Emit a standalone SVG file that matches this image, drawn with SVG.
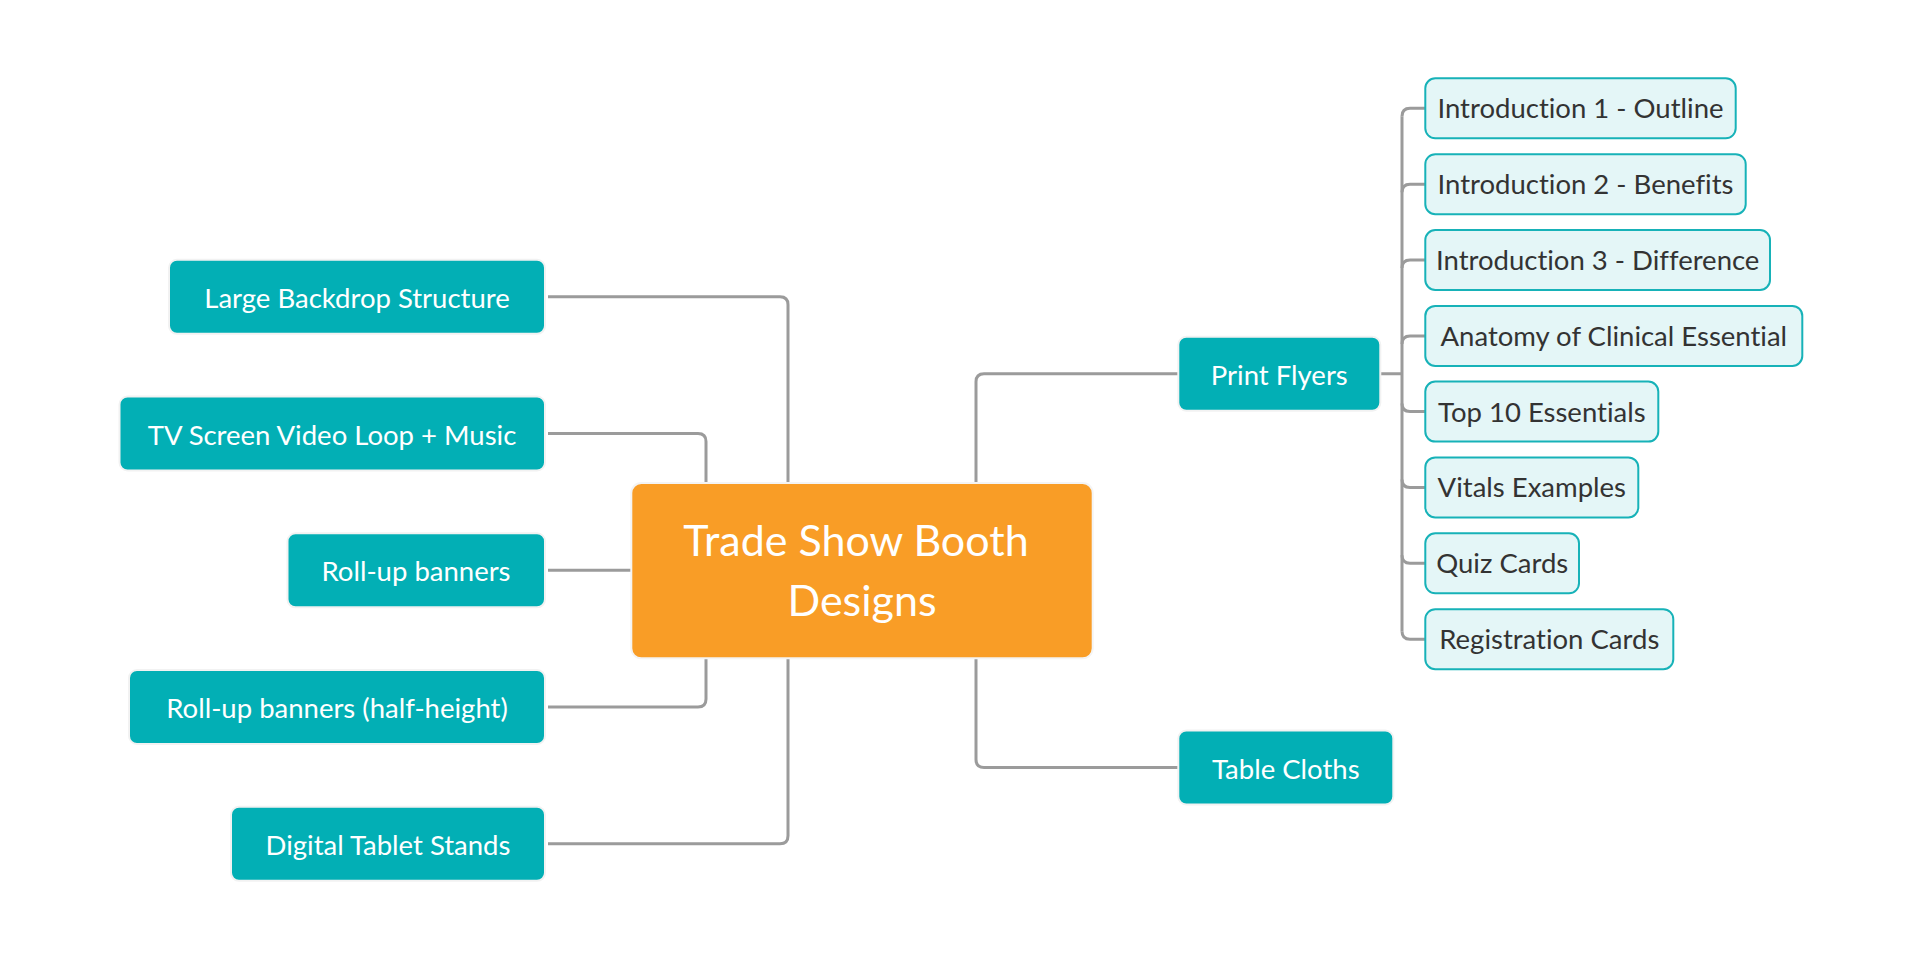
<svg xmlns="http://www.w3.org/2000/svg" width="1920" height="960" viewBox="0 0 1920 960">
<style>
.bg{fill:#ffffff}
.conn{fill:none;stroke:#9b9b9b;stroke-width:3}
.main{fill:#02afb5;stroke:#f2f2f2;stroke-width:2}
.root{fill:#f99d26;stroke:#f4f4f4;stroke-width:2}
.sub{fill:#e4f6f7;stroke:#17b2b8;stroke-width:2}
text{font-variant-ligatures:none;font-feature-settings:"liga" 0}
.tw{font-family:Lato,"Open Sans","Liberation Sans",sans-serif;font-size:27.5px;fill:#ffffff;text-anchor:middle}
.td{font-family:Lato,"Open Sans","Liberation Sans",sans-serif;font-size:27.5px;fill:#333333;text-anchor:middle}
.tr{font-family:Lato,"Open Sans","Liberation Sans",sans-serif;font-size:43px;fill:#ffffff;text-anchor:middle}
</style>
<rect class="bg" x="0" y="0" width="1920" height="960"/>
<g id="connectors">
<path class="conn" d="M548,296.8 H780 Q788,296.8 788,304.8 V484"/>
<path class="conn" d="M548,433.5 H698 Q706,433.5 706,441.5 V484"/>
<path class="conn" d="M548,570.3 H632"/>
<path class="conn" d="M548,707 H698 Q706,707 706,699 V657"/>
<path class="conn" d="M548,843.8 H780 Q788,843.8 788,835.8 V657"/>
<path class="conn" d="M976,484 V381.75 Q976,373.75 984,373.75 H1178"/>
<path class="conn" d="M976,657 V759.5 Q976,767.5 984,767.5 H1178"/>
<path class="conn" d="M1380,373.75 H1402"/>
<path class="conn" d="M1402,116.3 V631.2"/>
<path class="conn" d="M1402,116.3 Q1402,108.3 1410,108.3 H1425"/>
<path class="conn" d="M1402,192.2 Q1402,184.2 1410,184.2 H1425"/>
<path class="conn" d="M1402,268 Q1402,260 1410,260 H1425"/>
<path class="conn" d="M1402,343.9 Q1402,335.9 1410,335.9 H1425"/>
<path class="conn" d="M1402,403.6 Q1402,411.6 1410,411.6 H1425"/>
<path class="conn" d="M1402,479.4 Q1402,487.4 1410,487.4 H1425"/>
<path class="conn" d="M1402,555.3 Q1402,563.3 1410,563.3 H1425"/>
<path class="conn" d="M1402,631.2 Q1402,639.2 1410,639.2 H1425"/>
</g>
<g id="root">
<rect class="root" x="631.3" y="483" width="461.4" height="175.3" rx="10"/>
<text class="tr" x="856" y="556">Trade Show Booth</text>
<text class="tr" x="862" y="616">Designs</text>
</g>
<g id="n-large-backdrop">
<rect class="main" x="169" y="259.8" width="376" height="74" rx="8"/>
<text class="tw" x="357" y="307.8">Large Backdrop Structure</text>
</g>
<g id="n-tv-screen">
<rect class="main" x="119.5" y="396.5" width="425.5" height="74" rx="8"/>
<text class="tw" x="332" y="444.5">TV Screen Video Loop + Music</text>
</g>
<g id="n-rollup">
<rect class="main" x="287.5" y="533.3" width="257.5" height="74" rx="8"/>
<text class="tw" x="416" y="581.3">Roll-up banners</text>
</g>
<g id="n-rollup-half">
<rect class="main" x="129" y="670" width="416" height="74" rx="8"/>
<text class="tw" x="337" y="718">Roll-up banners (half-height)</text>
</g>
<g id="n-tablet">
<rect class="main" x="231" y="806.8" width="314" height="74" rx="8"/>
<text class="tw" x="388" y="854.8">Digital Tablet Stands</text>
</g>
<g id="n-print-flyers">
<rect class="main" x="1178.3" y="336.75" width="202" height="74" rx="8"/>
<text class="tw" x="1279.3" y="384.75">Print Flyers</text>
</g>
<g id="n-table-cloths">
<rect class="main" x="1178.3" y="730.5" width="215" height="74" rx="8"/>
<text class="tw" x="1285.8" y="778.5">Table Cloths</text>
</g>
<g id="s-intro1">
<rect class="sub" x="1425.3" y="78.3" width="310.4" height="60" rx="10"/>
<text class="td" x="1580.5" y="118.3">Introduction 1 - Outline</text>
</g>
<g id="s-intro2">
<rect class="sub" x="1425.3" y="154.2" width="320.4" height="60" rx="10"/>
<text class="td" x="1585.5" y="194.2">Introduction 2 - Benefits</text>
</g>
<g id="s-intro3">
<rect class="sub" x="1425.3" y="230" width="344.7" height="60" rx="10"/>
<text class="td" x="1597.7" y="270">Introduction 3 - Difference</text>
</g>
<g id="s-anatomy">
<rect class="sub" x="1425.3" y="305.9" width="377" height="60" rx="10"/>
<text class="td" x="1613.8" y="345.9">Anatomy of Clinical Essential</text>
</g>
<g id="s-top10">
<rect class="sub" x="1425.3" y="381.6" width="233" height="60" rx="10"/>
<text class="td" x="1541.8" y="421.6">Top 10 Essentials</text>
</g>
<g id="s-vitals">
<rect class="sub" x="1425.3" y="457.4" width="213" height="60" rx="10"/>
<text class="td" x="1531.8" y="497.4">Vitals Examples</text>
</g>
<g id="s-quiz">
<rect class="sub" x="1425.3" y="533.3" width="153.7" height="60" rx="10"/>
<text class="td" x="1502.2" y="573.3">Quiz Cards</text>
</g>
<g id="s-registration">
<rect class="sub" x="1425.3" y="609.2" width="248" height="60" rx="10"/>
<text class="td" x="1549.3" y="649.2">Registration Cards</text>
</g>
</svg>
